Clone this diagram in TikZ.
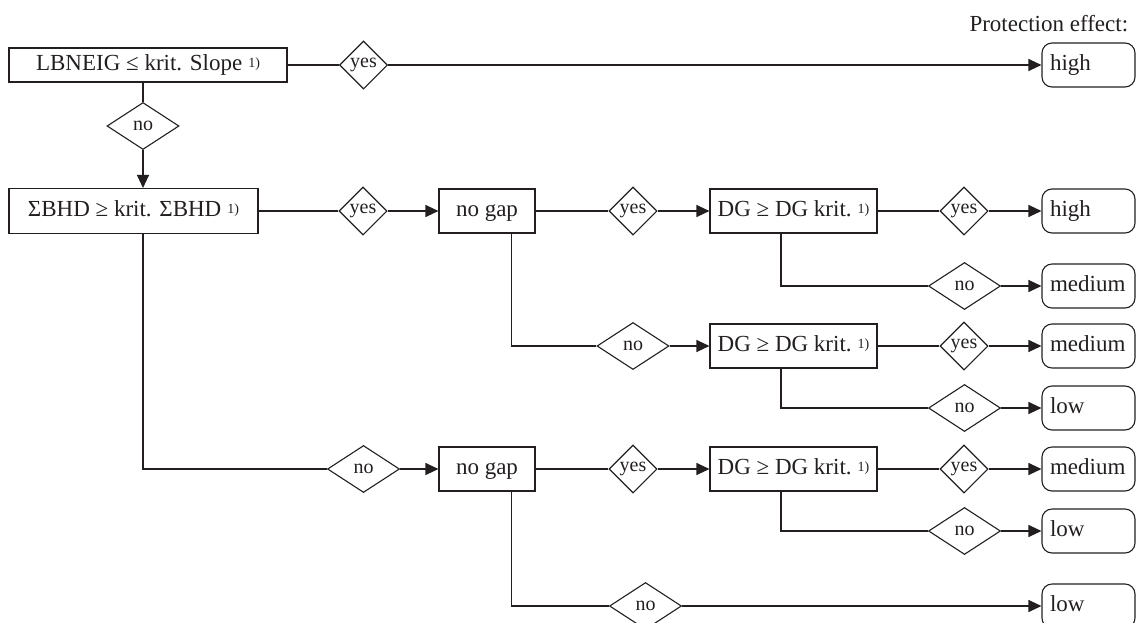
\documentclass[tikz,border=0pt]{standalone}
\usepackage{fontspec}
\setmainfont{Liberation Serif}
\usetikzlibrary{shapes.geometric,arrows.meta}
\definecolor{ink}{RGB}{35,31,32}
\newcommand{\supone}{\hspace{6pt}\raisebox{3pt}{\fontsize{14}{14}\selectfont 1)}}
\begin{document}
\begin{tikzpicture}[x=1pt,y=-1pt,line width=1.1pt,draw=ink,text=ink,
  box/.style={draw,rectangle,inner sep=0pt,text height=15pt,text depth=4pt,font=\fontsize{23}{27}\selectfont},
  term/.style={draw,rectangle,rounded corners=10pt,minimum height=44pt,text width=77pt,align=left,inner xsep=8pt,inner ysep=0pt,text height=15pt,text depth=4pt,font=\fontsize{23}{27}\selectfont},
  ydia/.style={draw,diamond,inner sep=0pt,minimum width=48pt,minimum height=48pt,font=\fontsize{20}{22}\selectfont},
  ndia/.style={draw,diamond,inner sep=0pt,minimum width=72pt,minimum height=47pt,font=\fontsize{20}{22}\selectfont},
  arr/.style={-{Triangle[length=13pt,width=12pt]}}]
\useasboundingbox (0,0) rectangle (1136,622);
\clip (0,0) rectangle (1136,622);

\node[anchor=base east,font=\fontsize{23}{27}\selectfont] (pe) at (1132,31) {Protection effect:};

% boxes
\node[box,minimum width=278pt,minimum height=34pt] (b1) at (148,65) {LBNEIG ≤ krit. Slope\supone};
\node[box,minimum width=249pt,minimum height=45pt] (b2) at (133.5,211) {ΣBHD ≥ krit. ΣBHD\supone};
\node[box,minimum width=96pt,minimum height=44pt] (g1) at (487,211) {no gap};
\node[box,minimum width=167pt,minimum height=44pt] (d1) at (793.5,211) {DG ≥ DG krit.\supone};
\node[box,minimum width=167pt,minimum height=44pt] (d2) at (793.5,346) {DG ≥ DG krit.\supone};
\node[box,minimum width=96pt,minimum height=44pt] (g2) at (487,469) {no gap};
\node[box,minimum width=167pt,minimum height=44pt] (d3) at (793.5,469) {DG ≥ DG krit.\supone};

% terminals
\node[term] (t1) at (1088.5,65) {high};
\node[term] (t2) at (1088.5,211) {high};
\node[term] (t3) at (1088.5,286) {medium};
\node[term] (t4) at (1088.5,346) {medium};
\node[term] (t5) at (1088.5,408) {low};
\node[term] (t6) at (1088.5,469) {medium};
\node[term] (t7) at (1088.5,531) {low};
\node[term] (t8) at (1088.5,606) {low};

% yes diamonds
\node[ydia] (y1) at (363.5,65) {yes};
\node[ydia] (y2) at (363,211) {yes};
\node[ydia] (y3) at (633,211) {yes};
\node[ydia] (y4) at (964,211) {yes};
\node[ydia] (y5) at (964,346) {yes};
\node[ydia] (y6) at (633,469) {yes};
\node[ydia] (y7) at (964,469) {yes};

% no diamonds
\node[ndia] (n1) at (143,126) {no};
\node[ndia] (n2) at (964.5,286) {no};
\node[ndia] (n3) at (633,346) {no};
\node[ndia] (n4) at (964.5,408) {no};
\node[ndia] (n5) at (363.5,469) {no};
\node[ndia] (n6) at (964.5,531) {no};
\node[ndia] (n7) at (645.5,606) {no};

% vertical drop positions
\coordinate (vb) at (143,0);
\coordinate (vg) at (511.5,0);
\coordinate (vd) at (781,0);

% row 1
\draw (b1.east) -- (y1.west);
\draw[arr] (y1.east) -- (t1.west);
\draw (b1.south -| n1) -- (n1.north);
\draw[arr] (n1.south) -- (n1.south |- b2.north);

% row 2
\draw (b2.east) -- (y2.west);
\draw[arr] (y2.east) -- (g1.west);
\draw (g1.east) -- (y3.west);
\draw[arr] (y3.east) -- (d1.west);
\draw (d1.east) -- (y4.west);
\draw[arr] (y4.east) -- (t2.west);
\draw (d1.south -| vd) |- (n2.west);
\draw[arr] (n2.east) -- (t3.west);

% row 4/5
\draw (g1.south -| vg) |- (n3.west);
\draw[arr] (n3.east) -- (d2.west);
\draw (d2.east) -- (y5.west);
\draw[arr] (y5.east) -- (t4.west);
\draw (d2.south -| vd) |- (n4.west);
\draw[arr] (n4.east) -- (t5.west);

% row 6/7/8
\draw (b2.south -| vb) |- (n5.west);
\draw[arr] (n5.east) -- (g2.west);
\draw (g2.east) -- (y6.west);
\draw[arr] (y6.east) -- (d3.west);
\draw (d3.east) -- (y7.west);
\draw[arr] (y7.east) -- (t6.west);
\draw (d3.south -| vd) |- (n6.west);
\draw[arr] (n6.east) -- (t7.west);
\draw (g2.south -| vg) |- (n7.west);
\draw[arr] (n7.east) -- (t8.west);
\end{tikzpicture}
\end{document}
